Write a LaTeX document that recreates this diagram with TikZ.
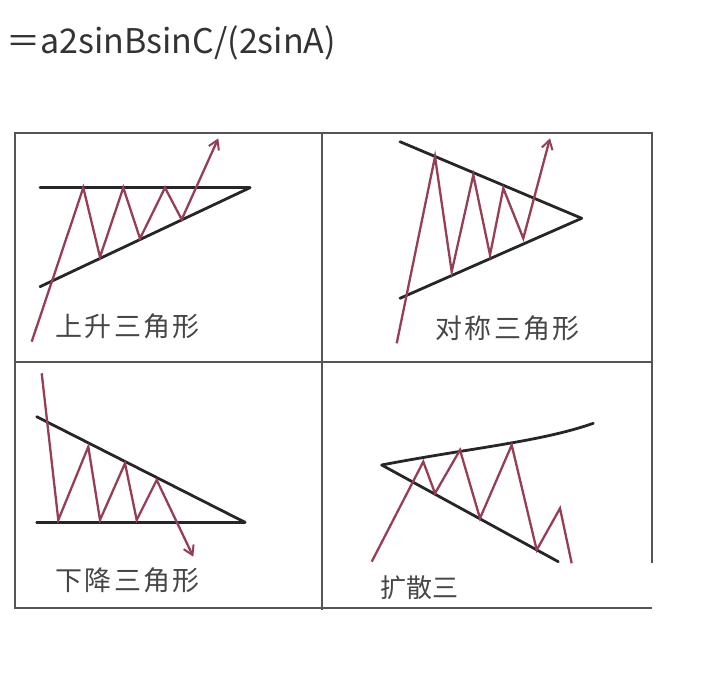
\documentclass[tikz,border=0pt]{standalone}
\usepackage{fontspec}
\newfontfamily\cjk{Noto Sans CJK SC}
\newfontfamily\cjklab[LetterSpace=9]{Noto Sans CJK SC}
\usetikzlibrary{arrows.meta}
\definecolor{zig}{RGB}{150,62,84}
\definecolor{frame}{RGB}{85,85,85}
\definecolor{labgray}{RGB}{70,70,70}
\begin{document}
\begin{tikzpicture}[x=1pt,y=-1pt,
  frameline/.style={draw=frame,line width=1.6pt},
  trend/.style={draw=black!85,line width=2.8pt,line cap=round},
  zigline/.style={draw=zig,line width=2.3pt,line join=miter},
  zigarrow/.style={zigline,-{Straight Barb[length=9pt,width=11pt,line width=2pt]}},
  lab/.style={text=labgray,inner sep=0pt,font=\cjklab\fontsize{27}{27}\selectfont}]
\useasboundingbox (0,0) rectangle (718,681);
% formula
\node[anchor=west,inner sep=0pt,text=black!80,font=\cjk\fontsize{34}{34}\selectfont] (formula) at (6,43) {＝a2sinBsinC/(2sinA)};
% frame
\coordinate (f1) at (15,133); \coordinate (f2) at (652,133);
\coordinate (f3) at (652,563); \coordinate (f4) at (15,608);
\coordinate (f5) at (652,608);
\coordinate (m1) at (322,133); \coordinate (m2) at (322,610);
\coordinate (h1) at (15,362); \coordinate (h2) at (652,362);
\draw[frameline] (f3) -- (f2) -- (f1) -- (f4) -- (f5);
\draw[frameline] (m1) -- (m2);
\draw[frameline] (h1) -- (h2);
% panel 1: ascending
\coordinate (a1) at (40,187.7); \coordinate (a2) at (250,187.7); \coordinate (a3) at (40,286.7);
\draw[trend] (a1) -- (a2);
\draw[trend] (a3) -- (a2);
\coordinate (p0) at (31.7,341.7); \coordinate (p1) at (83.3,187.7);
\coordinate (p2) at (100,257); \coordinate (p3) at (123.3,187.7);
\coordinate (p4) at (140,238.5); \coordinate (p5) at (165,187.7);
\coordinate (p6) at (181.7,219.5); \coordinate (p7) at (218.3,138.3);
\draw[zigarrow] (p0) -- (p1) -- (p2) -- (p3) -- (p4) -- (p5) -- (p6) -- (p7);
\node[lab,anchor=west] (l1) at (55,326.7) {上升三角形};
% panel 2: symmetric
\coordinate (s1) at (400,141.7); \coordinate (s2) at (581.7,218.3); \coordinate (s3) at (400,298.3);
\draw[trend] (s1) -- (s2);
\draw[trend] (s3) -- (s2);
\coordinate (q0) at (396.7,343.3); \coordinate (q1) at (435,156.7);
\coordinate (q2) at (451.7,271.7); \coordinate (q3) at (473.3,175);
\coordinate (q4) at (490,255); \coordinate (q5) at (503.3,188.3);
\coordinate (q6) at (523.3,238.3); \coordinate (q7) at (550,138.3);
\draw[zigarrow] (q0) -- (q1) -- (q2) -- (q3) -- (q4) -- (q5) -- (q6) -- (q7);
\node[lab,anchor=west] (l2) at (435,328) {对称三角形};
% panel 3: descending
\coordinate (d1) at (36.7,522.3); \coordinate (d2) at (245,522.3); \coordinate (d3) at (36.7,416.7);
\draw[trend] (d1) -- (d2);
\draw[trend] (d3) -- (d2);
\coordinate (r0) at (41.7,373.3); \coordinate (r1) at (58.3,520);
\coordinate (r2) at (88.3,446.7); \coordinate (r3) at (100,520);
\coordinate (r4) at (125,463.3); \coordinate (r5) at (136.7,520);
\coordinate (r6) at (156.7,480); \coordinate (r7) at (193.3,556.7);
\draw[zigarrow] (r0) -- (r1) -- (r2) -- (r3) -- (r4) -- (r5) -- (r6) -- (r7);
\node[lab,anchor=west] (l3) at (55,580) {下降三角形};
% panel 4: expanding
\coordinate (e1) at (381.7,465); \coordinate (e2) at (593.3,423.3); \coordinate (e3) at (558.3,561.7);
\draw[trend] (e1) .. controls (470,448) and (540,442) .. (e2);
\draw[trend] (e1) -- (e3);
\coordinate (t0) at (371.7,561.7); \coordinate (t1) at (423.3,461.7);
\coordinate (t2) at (435,493.3); \coordinate (t3) at (460,450);
\coordinate (t4) at (480,518.3); \coordinate (t5) at (511.7,445);
\coordinate (t6) at (536.7,550); \coordinate (t7) at (560,508.3);
\coordinate (t8) at (571.7,563.3);
\draw[zigline] (t0) -- (t1) -- (t2) -- (t3) -- (t4) -- (t5) -- (t6) -- (t7) -- (t8);
\node[lab,anchor=west,font=\cjk\fontsize{26}{26}\selectfont] (l4) at (380,588) {扩散三};
\end{tikzpicture}
\end{document}
